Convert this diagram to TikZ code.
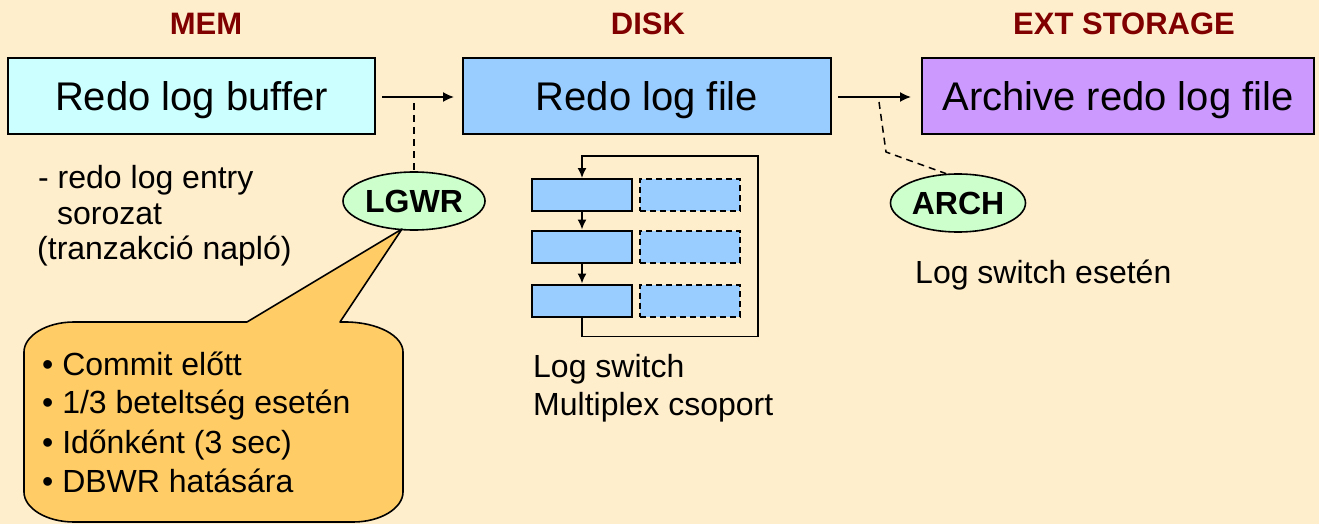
\documentclass[tikz,border=0pt]{standalone}
\usepackage{fontspec}
\setmainfont{Liberation Sans}
\usetikzlibrary{shapes.geometric,arrows.meta,calc}

\definecolor{bgcream}{RGB}{255,238,204}
\definecolor{headred}{RGB}{128,0,0}
\definecolor{memcyan}{RGB}{204,255,255}
\definecolor{diskblue}{RGB}{153,204,255}
\definecolor{extpurple}{RGB}{204,153,255}
\definecolor{procgreen}{RGB}{204,255,204}
\definecolor{noteorange}{RGB}{255,204,102}

\tikzset{
  head/.style={anchor=base, inner sep=0pt, text=headred,
    font=\bfseries\fontsize{31}{36}\selectfont},
  bigbox/.style={draw=black, line width=2pt, inner sep=0pt,
    minimum height=76pt, text height=29pt, text depth=0pt,
    font=\fontsize{40}{48}\selectfont},
  proc/.style={ellipse, draw=black, line width=1.6pt, fill=procgreen,
    inner sep=0pt, minimum height=58pt, text height=23pt, text depth=0pt,
    font=\bfseries\fontsize{32}{38}\selectfont},
  txt/.style={anchor=base west, inner sep=0pt,
    font=\fontsize{32}{38}\selectfont},
  flow/.style={line width=1.6pt, -{Latex[length=11pt,width=10pt]}},
  loopflow/.style={line width=1.6pt, -{Latex[length=10pt,width=9pt]}},
  hint/.style={line width=1.5pt, dash pattern=on 7pt off 5pt},
  slot/.style={draw=black, line width=2pt, fill=diskblue, inner sep=0pt,
    minimum width=100pt, minimum height=32pt},
  slotmirror/.style={slot, dash pattern=on 6pt off 4pt},
}

\begin{document}
\begin{tikzpicture}[x=1pt, y=-1pt]
\useasboundingbox[fill=bgcream] (0,0) rectangle (1319,524);

% column headings
\node[head] (hmem)  at (206,35)  {MEM};
\node[head] (hdisk) at (648,35)  {DISK};
\node[head] (hext)  at (1124,35) {EXT STORAGE};

% main storage boxes
\node[bigbox, fill=memcyan,   minimum width=367pt] (buf)  at (191.5,96.5) {Redo log buffer};
\node[bigbox, fill=diskblue,  minimum width=368pt] (file) at (647,96.5)   {Redo log file};
\node[bigbox, fill=extpurple, minimum width=392pt] (arc)  at (1118,96.5)  {Archive redo log file};

% data flow between the boxes
\draw[flow] ($(buf.east)+(6,0.5)$)  -- ($(file.west)+(-8,0.5)$);
\draw[flow] ($(file.east)+(6,0.5)$) -- ($(arc.west)+(-10,0.5)$);

% background processes
\node[proc, minimum width=142pt] (lgwr)  at (414,201) {LGWR};
\node[proc, minimum width=135pt] (archp) at (958,203) {ARCH};

\coordinate (tap1) at (414,103);
\coordinate (tap2) at (879,102);
\draw[hint] (tap1) -- (lgwr.north);
\draw[hint] (tap2) -- (886,152) -- (archp.112);

% memory side notes
\node[txt] (n1) at (38,188) {- redo log entry};
\node[txt] (n2) at (57,224) {sorozat};
\node[txt] (n3) at (37,259) {(tranzakció napló)};

% redo log groups with their multiplexed members
\node[slot] (g1) at (582,195)   {};
\node[slot] (g2) at (582,246.5) {};
\node[slot] (g3) at (582,300.5) {};
\node[slotmirror] (m1) at (690,195)   {};
\node[slotmirror] (m2) at (690,246.5) {};
\node[slotmirror] (m3) at (690,300.5) {};

\draw[loopflow] (g1.south) -- (g2.north);
\draw[loopflow] (g2.south) -- (g3.north);
\draw[loopflow] (g3.south) -- ++(0,19) -| (758,156) -| (g1.north);

\node[txt] (d1) at (533,377) {Log switch};
\node[txt] (d2) at (533,415) {Multiplex csoport};

\node[txt] (e1) at (915,283) {Log switch esetén};

% speech bubble attached to LGWR
\coordinate (tip) at (402,229);
\draw[line width=1.6pt, fill=noteorange, line join=round]
  (340,322) -- (345,322)
  .. controls (378,322) and (403,336) .. (403,352)
  -- (403,492)
  .. controls (403,508) and (381,522) .. (353,522)
  -- (74,522)
  .. controls (46,522) and (24,508) .. (24,492)
  -- (24,352)
  .. controls (24,336) and (46,322) .. (74,322)
  -- (247,322) -- (tip) -- cycle;

\node[txt] (b1) at (42,375) {• Commit előtt};
\node[txt] (b2) at (42,413) {• 1/3 beteltség esetén};
\node[txt] (b3) at (42,453) {• Időnként (3 sec)};
\node[txt] (b4) at (42,492) {• DBWR hatására};
\end{tikzpicture}
\end{document}
